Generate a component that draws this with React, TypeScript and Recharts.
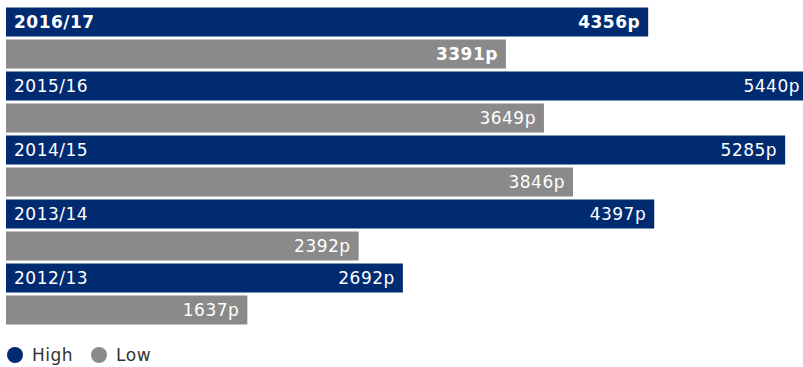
import React from 'react';
import { BarChart, Bar, XAxis, YAxis, LabelList } from 'recharts';

const years = ['2016/17', '2015/16', '2014/15', '2013/14', '2012/13'];
const highValues = [4356, 5440, 5285, 4397, 2692];
const lowValues = [3391, 3649, 3846, 2392, 1637];

const NAVY = '#012b70';
const GREY = '#8a8a8a';
const FONT = '"DejaVu Sans", sans-serif';

const data = years.map((year, i) => ({ year, high: highValues[i], low: lowValues[i] }));

const YearLabel = (props: any) => {
  const { x, y, height, value, index } = props;
  return (
    <text
      x={x + 8}
      y={y + height / 2}
      dy="0.36em"
      fill="#fff"
      fontFamily={FONT}
      fontSize={17}
      letterSpacing={0.5}
      fontWeight={index === 0 ? 700 : 400}
    >
      {value}
    </text>
  );
};

const ValueLabel = (props: any) => {
  const { x, y, width, height, value, index } = props;
  return (
    <text
      x={x + width - 8}
      y={y + height / 2}
      dy="0.36em"
      textAnchor="end"
      fill="#fff"
      fontFamily={FONT}
      fontSize={17}
      letterSpacing={0.5}
      fontWeight={index === 0 ? 700 : 400}
    >
      {value}p
    </text>
  );
};

const legendItems = [
  { name: 'High', color: NAVY },
  { name: 'Low', color: GREY },
];

export default function App() {
  return (
    <div style={{ position: 'absolute', left: 0, top: 0, width: 803, height: 367, overflow: 'hidden', background: '#fff' }}>
      <BarChart
        width={808}
        height={367}
        data={data}
        layout="vertical"
        margin={{ top: 5.5, right: 0, left: 6, bottom: 41.5 }}
        barSize={29}
        barGap={3}
      >
        <XAxis type="number" domain={[0, 5440]} hide />
        <YAxis type="category" dataKey="year" hide />
        <Bar dataKey="high" name="High" fill={NAVY} isAnimationActive={false}>
          <LabelList dataKey="year" content={YearLabel} />
          <LabelList dataKey="high" content={ValueLabel} />
        </Bar>
        <Bar dataKey="low" name="Low" fill={GREY} isAnimationActive={false}>
          <LabelList dataKey="low" content={ValueLabel} />
        </Bar>
      </BarChart>
      <div
        style={{
          position: 'absolute',
          left: 7,
          top: 345,
          display: 'flex',
          alignItems: 'center',
          fontFamily: FONT,
          fontSize: 17,
          letterSpacing: 0.5,
          color: '#333',
        }}
      >
        {legendItems.map((item) => (
          <div key={item.name} style={{ display: 'flex', alignItems: 'center', marginRight: 18 }}>
            <span
              style={{
                display: 'inline-block',
                width: 16,
                height: 16,
                borderRadius: '50%',
                background: item.color,
                marginRight: 9,
              }}
            />
            <span>{item.name}</span>
          </div>
        ))}
      </div>
    </div>
  );
}
